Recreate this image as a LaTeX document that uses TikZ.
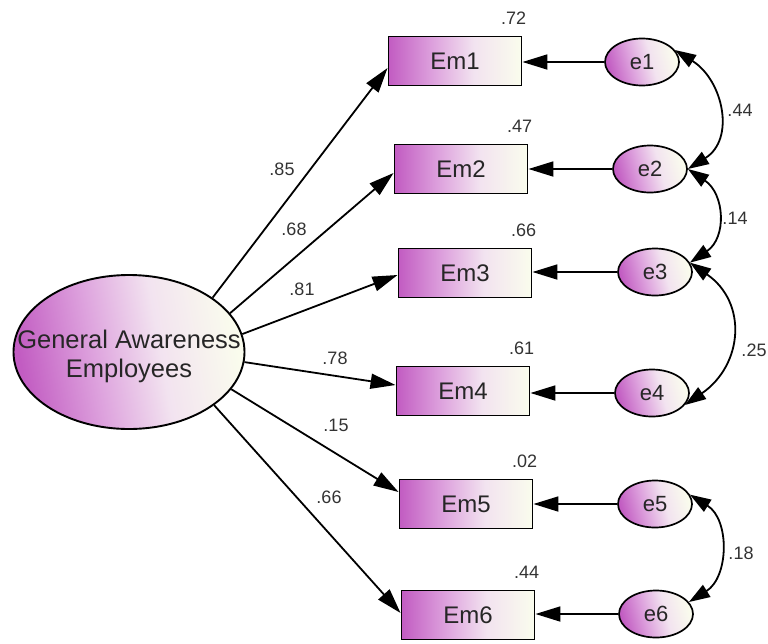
\documentclass[tikz,border=0pt]{standalone}
\usepackage{fontspec}
\setmainfont{Liberation Sans}
\usetikzlibrary{arrows.meta,shapes.geometric}
\definecolor{cA}{rgb}{0.76,0.36,0.76}
\definecolor{cB}{rgb}{0.87,0.64,0.87}
\definecolor{cC}{rgb}{0.95,0.89,0.94}
\definecolor{cD}{rgb}{0.98,0.99,0.93}
\definecolor{numgray}{rgb}{0.2,0.2,0.2}
\pgfdeclarehorizontalshading{amos}{100bp}{color(0bp)=(cA); color(25bp)=(cA); color(42bp)=(cB); color(57bp)=(cC); color(75bp)=(cD); color(100bp)=(cD)}
\begin{document}
\begin{tikzpicture}[x=1pt,y=-1pt,
  obsbox/.style={draw, line width=1.9pt, minimum width=133pt, minimum height=49pt, inner sep=0pt, shade, shading=amos, font=\fontsize{24}{24}\selectfont, text=black!85},
  errell/.style={ellipse, draw, line width=1.7pt, minimum width=74pt, minimum height=47pt, inner sep=0pt, shade, shading=amos, shading angle=15, font=\fontsize{22}{22}\selectfont, text=black!85},
  latell/.style={ellipse, draw, line width=1.9pt, minimum width=231pt, minimum height=154pt, inner sep=0pt, shade, shading=amos, shading angle=10},
  path/.style={line width=1.8pt, -{Triangle[length=25pt,width=15pt]}},
  cov/.style={line width=1.8pt, {Triangle[length=21pt,width=14pt]}-{Triangle[length=21pt,width=14pt]}},
  num/.style={font=\fontsize{18}{18}\selectfont, text=numgray, inner sep=0pt}]
\useasboundingbox (0,0) rectangle (768,643);

% latent variable
\node[latell] (G) at (129,352) {};
\node[font=\fontsize{25.5}{29}\selectfont, align=center, text=black!85, inner sep=0pt] (Gtext) at (129,356) {General Awareness\\Employees};

% observed variables
\node[obsbox] (Em1) at (455,61) {Em1};
\node[obsbox] (Em2) at (461,169) {Em2};
\node[obsbox] (Em3) at (465,273) {Em3};
\node[obsbox] (Em4) at (463,391) {Em4};
\node[obsbox] (Em5) at (466,504) {Em5};
\node[obsbox] (Em6) at (468,615) {Em6};

% error terms
\node[errell] (e1) at (642,62) {e1};
\node[errell] (e2) at (650,169) {e2};
\node[errell] (e3) at (655,272) {e3};
\node[errell] (e4) at (652,393) {e4};
\node[errell] (e5) at (655,504) {e5};
\node[errell] (e6) at (656,614) {e6};

% loadings
\draw[path] (G.33) -- ([yshift=-7pt]Em1.west);
\draw[path] (G.21.6) -- ([yshift=-4pt]Em2.west);
\draw[path] (G.9.5) -- ([yshift=-2pt]Em3.west);
\draw[path] (G.-5.4) -- ([yshift=6pt]Em4.west);
\draw[path] (G.-20) -- ([yshift=12pt]Em5.west);
\draw[path] (G.-32.5) -- ([yshift=2pt]Em6.west);

% error arrows
\foreach \i in {1,...,6}{
  \draw[path] (e\i.west) -- (e\i.west -| Em\i.east);
}

% covariances
\draw[cov] (e1.20) .. controls +(48,30) and +(48,-30) .. (e2.0);
\draw[cov] (e2.0) .. controls +(37,25) and +(37,-25) .. (e3.15);
\draw[cov] (e3.15) .. controls +(58,40) and +(58,-40) .. (e4.-20);
\draw[cov] (e5.15) .. controls +(40,25) and +(40,-25) .. (e6.20);

% loading labels
\node[num] (l1) at (282,169) {.85};
\node[num] (l2) at (294,229) {.68};
\node[num] (l3) at (302,289) {.81};
\node[num] (l4) at (335,358) {.78};
\node[num] (l5) at (336,425) {.15};
\node[num] (l6) at (329,497) {.66};

% squared multiple correlations
\node[num, anchor=base east] (r1) at ([xshift=4pt,yshift=11pt]Em1.north east) {.72};
\node[num, anchor=base east] (r2) at ([xshift=4pt,yshift=11pt]Em2.north east) {.47};
\node[num, anchor=base east] (r3) at ([xshift=4pt,yshift=11pt]Em3.north east) {.66};
\node[num, anchor=base east] (r4) at ([xshift=4pt,yshift=11pt]Em4.north east) {.61};
\node[num, anchor=base east] (r5) at ([xshift=4pt,yshift=11pt]Em5.north east) {.02};
\node[num, anchor=base east] (r6) at ([xshift=4pt,yshift=11pt]Em6.north east) {.44};

% covariance labels
\node[num] (c12) at (740,110) {.44};
\node[num] (c23) at (735,218) {.14};
\node[num] (c34) at (754,350) {.25};
\node[num] (c56) at (741,553) {.18};
\end{tikzpicture}
\end{document}
